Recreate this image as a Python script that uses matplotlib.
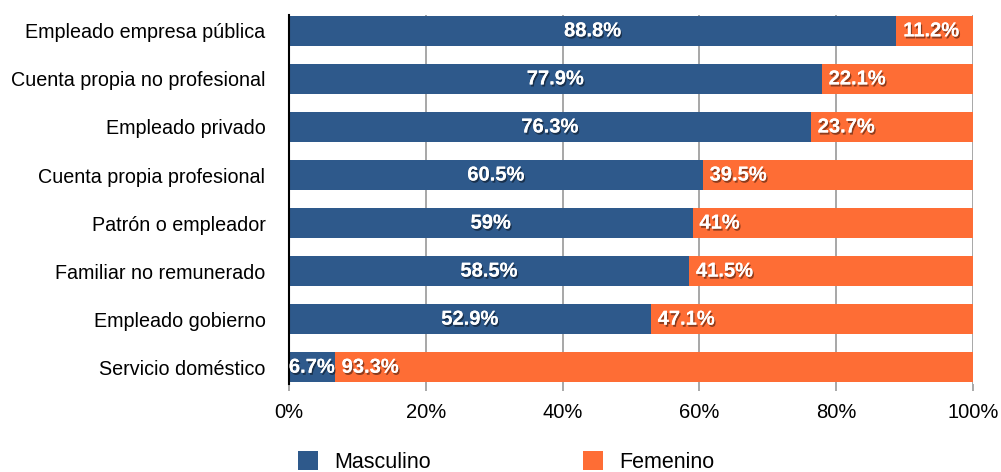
import matplotlib.pyplot as plt
import matplotlib.patheffects as pe
import numpy as np

# datos
categorias = ['Empleado empresa pública', 'Cuenta propia no profesional', 'Empleado privado',
              'Cuenta propia profesional', 'Patrón o empleador', 'Familiar no remunerado',
              'Empleado gobierno', 'Servicio doméstico']
masculino = [88.8, 77.9, 76.3, 60.5, 59, 58.5, 52.9, 6.7]
femenino = [11.2, 22.1, 23.7, 39.5, 41, 41.5, 47.1, 93.3]
etiquetas_m = ['88.8%', '77.9%', '76.3%', '60.5%', '59%', '58.5%', '52.9%', '6.7%']
etiquetas_f = ['11.2%', '22.1%', '23.7%', '39.5%', '41%', '41.5%', '47.1%', '93.3%']

azul = '#2E598B'
naranja = '#FE6D35'

plt.rcParams['font.family'] = ['Liberation Sans', 'DejaVu Sans']

fig = plt.figure(figsize=(10.01, 4.72), dpi=100)
ax = fig.add_axes([0.2887, 0.1864, 0.6833, 0.7818])

y = np.arange(len(categorias))
alto = 0.62
ax.barh(y, masculino, height=alto, color=azul, label='Masculino', zorder=3)
ax.barh(y, femenino, left=masculino, height=alto, color=naranja, label='Femenino', zorder=3)

sombra = [pe.withSimplePatchShadow(offset=(1, -1.5), shadow_rgbFace='black', alpha=0.45), pe.Normal()]
for i in range(len(categorias)):
    ax.text(masculino[i] / 2, y[i], etiquetas_m[i], ha='center', va='center', color='white',
            fontsize=14.5, fontweight='bold', zorder=5, path_effects=sombra)
    ax.text(masculino[i] + 1.0, y[i], etiquetas_f[i], ha='left', va='center', color='white',
            fontsize=14.5, fontweight='bold', zorder=5, path_effects=sombra)

ax.set_xlim(0, 100)
ax.set_ylim(7.35, -0.33)
ax.set_yticks(y)
ax.set_yticklabels(categorias, fontsize=14.2)
ax.tick_params(axis='y', length=0, pad=17)
ax.set_xticks([0, 20, 40, 60, 80, 100])
ax.set_xticklabels(['0%', '20%', '40%', '60%', '80%', '100%'], fontsize=14.5)
ax.tick_params(axis='x', length=5, width=1.2, color='#999999', pad=9)

ax.grid(axis='x', color='#A0A0A0', linewidth=1.3, zorder=1)
for s in ['top', 'right', 'bottom']:
    ax.spines[s].set_visible(False)
ax.spines['left'].set_color('black')
ax.spines['left'].set_linewidth(1.5)
ax.spines['left'].set_zorder(4)

fig.legend(loc='center', bbox_to_anchor=(0.506, 0.021), ncol=2, frameon=False, fontsize=15.5,
           handlelength=0.93, handleheight=0.93, columnspacing=7.07, handletextpad=0.75)

fig.savefig('out.png', dpi=100)
